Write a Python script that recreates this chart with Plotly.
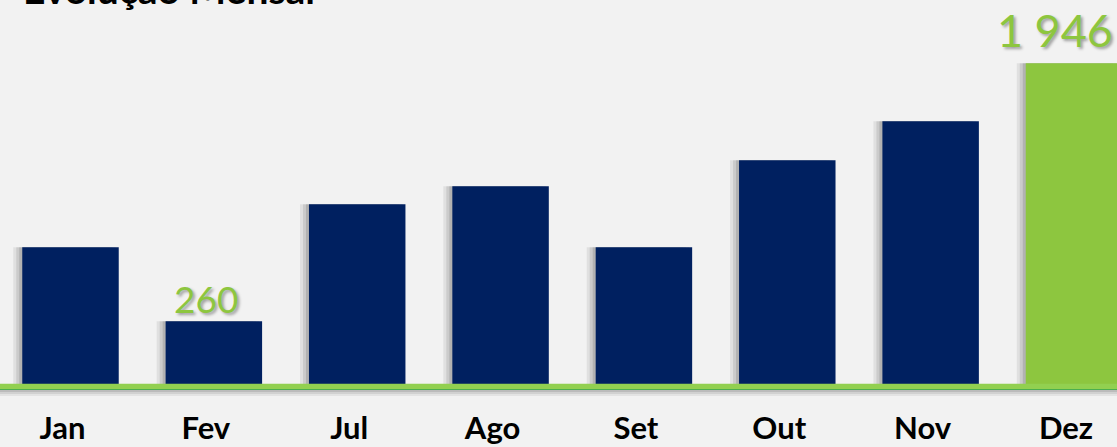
import plotly.graph_objects as go

# ---- data ----
MONTHS = ["Jan", "Fev", "Jul", "Ago", "Set", "Out", "Nov", "Dez"]
VALUES = [744, 260, 1025, 1142, 744, 1312, 1567, 1946]
HIGHLIGHT = "Dez"
LABELED = ["Fev", "Dez"]
TITLE = "Evolução Mensal"

# ---- style ----
FLOOR = -150          # value at which the bars start (baseline of the original chart)
NAVY = "#002060"
GREEN = "#8dc63f"
LINE_GREEN = "#92d050"
BG = "#f2f2f2"
FONT = "Lato"
PX_PER_CAT = 143.36
BAR_W = 0.673
LABEL_STYLE = {"Fev": dict(size=37, yshift=-2, xshift=-8), "Dez": dict(size=45, yshift=4, xshift=-19)}

heights = [v - FLOOR for v in VALUES]

fig = go.Figure()

# soft shadows to the left of each bar
for k, a in [(9, 0.07), (6, 0.09), (3, 0.12)]:
    fig.add_bar(
        x=MONTHS, y=heights, base=FLOOR, width=BAR_W,
        offset=-BAR_W / 2 - k / PX_PER_CAT,
        marker=dict(color=f"rgba(0,0,0,{a})", line_width=0),
        hoverinfo="skip",
    )

fig.add_bar(
    x=MONTHS, y=heights, base=FLOOR, width=BAR_W,
    marker=dict(color=[GREEN if m == HIGHLIGHT else NAVY for m in MONTHS], line_width=0),
    customdata=VALUES, hovertemplate="%{x}: %{customdata}<extra></extra>",
)

# baseline with shadow
for y0, y1, col in [(-12, -5, "rgba(0,0,0,0.06)"), (-10, -5, "rgba(0,0,0,0.08)"), (-8, -5, "rgba(0,0,0,0.10)")]:
    fig.add_shape(type="rect", xref="paper", x0=0, x1=1, yref="y", ysizemode="pixel",
                  yanchor=FLOOR, y0=y0, y1=y1, line_width=0, fillcolor=col, layer="above")
fig.add_shape(type="rect", xref="paper", x0=0, x1=1, yref="y", ysizemode="pixel",
              yanchor=FLOOR, y0=-5.5, y1=0.3, line_width=0, fillcolor=LINE_GREEN, layer="above")
fig.add_shape(type="rect", xref="paper", x0=0, x1=1, yref="y", ysizemode="pixel",
              yanchor=FLOOR, y0=-6, y1=-5, line_width=0, fillcolor="#4cae4f", layer="above")

# value labels
for m in LABELED:
    v = VALUES[MONTHS.index(m)]
    st = LABEL_STYLE[m]
    fig.add_annotation(
        x=m, y=v, xref="x", yref="y", text=f"{v:,}".replace(",", " "),
        showarrow=False, yanchor="bottom", yshift=st["yshift"], xshift=st["xshift"],
        font=dict(family=FONT, size=st["size"], color=GREEN,
                  shadow="2px 2px 3px rgba(0,0,0,0.35)"),
    )

# title (cut at top like the original)
fig.add_annotation(
    x=0, y=1, xref="paper", yref="paper", xanchor="left", yanchor="bottom",
    xshift=21, yshift=-14, text=TITLE, showarrow=False,
    font=dict(family=FONT, size=39, color="black", weight="bold"),
)

fig.update_layout(
    width=1117, height=447,
    margin=dict(l=0, r=0, t=0, b=40, autoexpand=False),
    paper_bgcolor=BG, plot_bgcolor=BG,
    barmode="overlay", showlegend=False,
    xaxis=dict(range=[-0.4918, 7.300], showgrid=False, zeroline=False, showline=False,
               automargin=False, ticks="",
               tickfont=dict(family=FONT, size=31, color="black", weight="bold"),
               ticklabelstandoff=0, ticklabelshift=-8),
    yaxis=dict(range=[-300, 2360], visible=False, showgrid=False, zeroline=False,
               automargin=False),
)

fig.write_html("out.html", config={"displayModeBar": False},
               post_script="document.body.style.margin='0';")
